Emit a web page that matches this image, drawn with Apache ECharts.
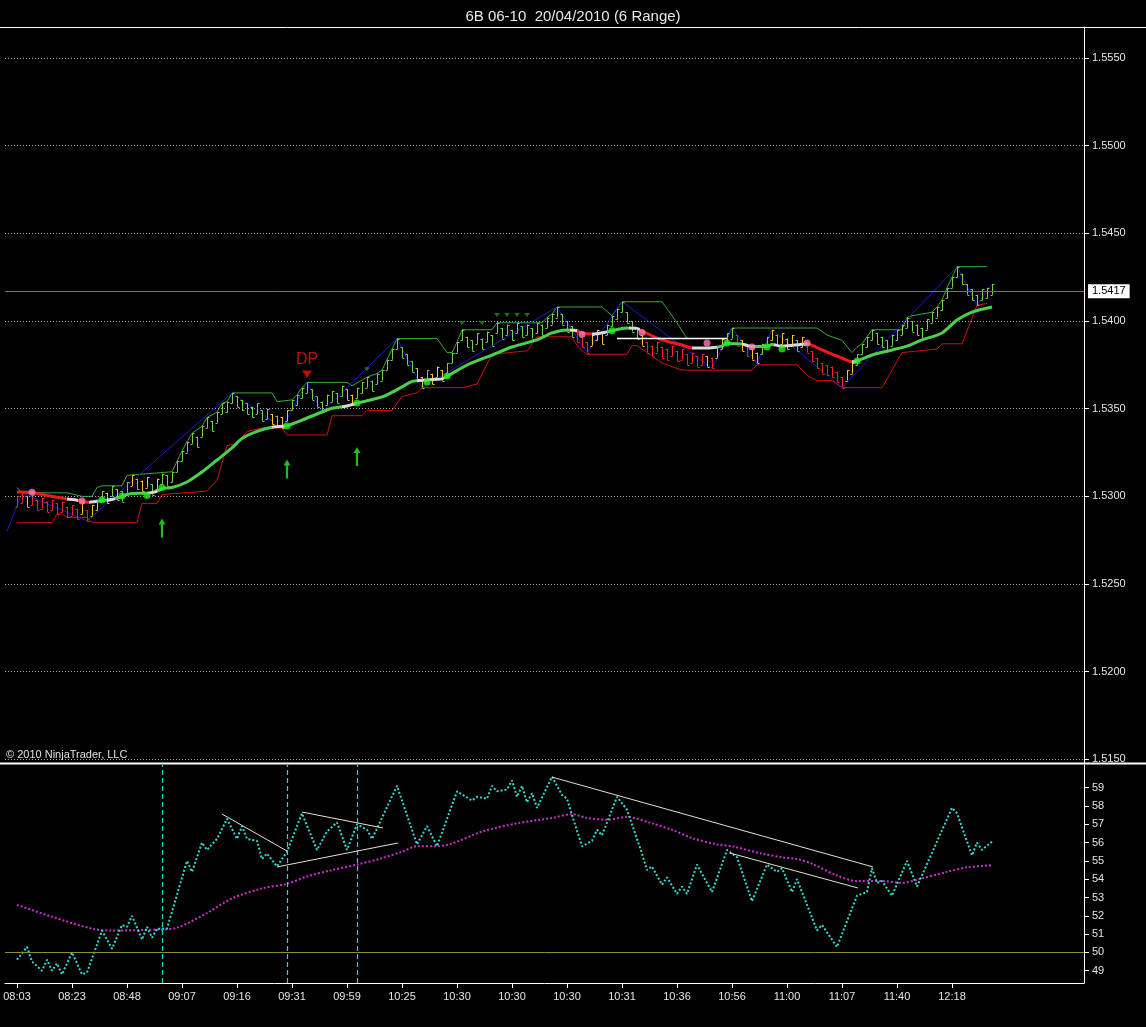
<!DOCTYPE html>
<html><head><meta charset="utf-8">
<script src="https://cdn.jsdelivr.net/npm/echarts@6/dist/echarts.min.js"></script>
<style>html,body{margin:0;padding:0;background:#000;}#c{width:1146px;height:1027px;}</style>
</head><body><div id="c"></div>
<script>
// ---------- axis ticks / labels ----------
const timeLabels = ['08:03','08:23','08:48','09:07','09:16','09:31','09:59','10:25','10:30','10:30','10:30','10:31','10:36','10:56','11:00','11:07','11:40','12:18'];
const timeLabelIdx = [0,11,22,33,44,55,66,77,88,99,110,121,132,143,154,165,176,187];
const priceTicks = [1.5150,1.5200,1.5250,1.5300,1.5350,1.5400,1.5450,1.5500,1.5550];
const oscTicks = [49,50,51,52,53,54,55,56,57,58,59];

// ---------- price bars (6-tick range bars) ----------
const RANGE = 0.0006;
const barHigh = [
1.5300,1.5302,1.5300,1.5301,1.5298,1.5299,1.5297,1.5298,1.5296,1.5297,
1.5294,1.5295,1.5293,1.5296,1.5292,1.5295,1.5298,1.5303,1.5302,1.5306,
1.5304,1.5303,1.5308,1.5312,1.5310,1.5309,1.5311,1.5307,1.5310,1.5313,
1.5312,1.5314,1.5320,1.5326,1.5331,1.5336,1.5334,1.5340,1.5345,1.5343,
1.5348,1.5353,1.5354,1.5359,1.5357,1.5355,1.5353,1.5351,1.5353,1.5349,
1.5350,1.5347,1.5346,1.5345,1.5349,1.5355,1.5358,1.5362,1.5365,1.5361,
1.5357,1.5354,1.5358,1.5360,1.5359,1.5363,1.5361,1.5358,1.5362,1.5365,
1.5368,1.5366,1.5370,1.5372,1.5378,1.5384,1.5390,1.5385,1.5381,1.5377,
1.5373,1.5368,1.5372,1.5370,1.5374,1.5372,1.5376,1.5382,1.5388,1.5395,
1.5391,1.5389,1.5393,1.5390,1.5394,1.5392,1.5399,1.5396,1.5398,1.5395,
1.5399,1.5397,1.5398,1.5396,1.5399,1.5398,1.5402,1.5404,1.5408,1.5404,
1.5400,1.5397,1.5394,1.5391,1.5388,1.5392,1.5395,1.5393,1.5398,1.5403,
1.5407,1.5411,1.5405,1.5400,1.5396,1.5392,1.5388,1.5386,1.5388,1.5385,
1.5384,1.5386,1.5383,1.5384,1.5381,1.5382,1.5380,1.5381,1.5380,1.5379,
1.5385,1.5390,1.5393,1.5396,1.5392,1.5389,1.5386,1.5384,1.5382,1.5387,
1.5391,1.5395,1.5392,1.5393,1.5390,1.5392,1.5389,1.5391,1.5388,1.5383,
1.5379,1.5376,1.5375,1.5374,1.5371,1.5368,1.5372,1.5376,1.5381,1.5387,
1.5391,1.5395,1.5393,1.5391,1.5389,1.5392,1.5395,1.5398,1.5402,1.5400,
1.5398,1.5396,1.5401,1.5405,1.5408,1.5412,1.5419,1.5425,1.5431,1.5427,
1.5421,1.5418,1.5415,1.5418,1.5419,1.5421];
const barColorCodes = [
'rryrrrrrrr','rrryryygyg','yggygyygyg','gggggggggg','gggggggggg',
'gygyyggggg','ggggggyygg','gggggggggg','yygyyygggg','gggggggggg',
'gggggggggg','ggrrryyygg','gggggyrrrr','rrrrrrrryr','yyggryryyg',
'gygyyygyrr','rrrrrryygg','gggggggggg','gggggggggg','gggggg'].join('');

// ---------- price-panel indicators ----------
const upperBand = [[0,1.5305],[1,1.5302],[10,1.5302],[13,1.5300],[15,1.5300],[16,1.5305],[17,1.5306],[21,1.5306],[22,1.5312],[31,1.5314],[32,1.5320],[33,1.5326],[34,1.5331],[35,1.5336],[37,1.5340],[38,1.5345],[40,1.5348],[41,1.5353],[42,1.5354],[43,1.5359],[51,1.5359],[52,1.5354],[55,1.5355],[56,1.5358],[57,1.5362],[58,1.5365],[66,1.5365],[67,1.5363],[70,1.5368],[72,1.5370],[73,1.5372],[74,1.5378],[75,1.5384],[76,1.5390],[84,1.5390],[86,1.5382],[87,1.5382],[88,1.5388],[89,1.5395],[95,1.5395],[96,1.5399],[105,1.5399],[106,1.5402],[107,1.5404],[108,1.5408],[117,1.5408],[119,1.5403],[120,1.5407],[121,1.5411],[129,1.5411],[132,1.5399],[134,1.5390],[142,1.5390],[143,1.5396],[160,1.5396],[162,1.5392],[165,1.5389],[167,1.5382],[168,1.5385],[169,1.5387],[170,1.5391],[171,1.5395],[177,1.5395],[178,1.5402],[179,1.5403],[183,1.5405],[184,1.5408],[185,1.5412],[186,1.5419],[187,1.5425],[188,1.5431],[194,1.5431]];
const lowerBand = [[0,1.5285],[7,1.5285],[8,1.5290],[9,1.5290],[10,1.5288],[14,1.5288],[15,1.5285],[24,1.5285],[25,1.5296],[28,1.5296],[29,1.5301],[38,1.5303],[39,1.5306],[40,1.5309],[42,1.5329],[44,1.5330],[46,1.5337],[49,1.5339],[53,1.5339],[54,1.5335],[62,1.5335],[63,1.5346],[69,1.5346],[70,1.5349],[75,1.5349],[77,1.5357],[80,1.5359],[81,1.5362],[89,1.5362],[92,1.5364],[95,1.5381],[102,1.5383],[103,1.5387],[104,1.5391],[111,1.5391],[112,1.5386],[113,1.5383],[114,1.5381],[122,1.5381],[123,1.5386],[124,1.5386],[126,1.5382],[129,1.5376],[133,1.5372],[147,1.5372],[148,1.5375],[156,1.5375],[158,1.5369],[160,1.5366],[163,1.5366],[165,1.5362],[173,1.5362],[177,1.5382],[184,1.5384],[185,1.5387],[189,1.5387],[192,1.5409],[194,1.5410]];
const zigzag = [[-2,1.5280],[1,1.5302],[14,1.5286],[43,1.5359],[53,1.5339],[58,1.5365],[61,1.5348],[76,1.5390],[81,1.5362],[108,1.5408],[114,1.5382],[121,1.5411],[139,1.5373],[143,1.5396],[148,1.5376],[151,1.5395],[165,1.5362],[188,1.5431],[192,1.5409],[195,1.5421]];
const maLine = [[0,1.53025],[3,1.53022],[6,1.53005],[10,1.52985],[12,1.52978],[14,1.52966],[17,1.52976],[19,1.52982],[21,1.53000],[23,1.53016],[26,1.53018],[28,1.53028],[29,1.53044],[31,1.53050],[34,1.53082],[37,1.53139],[40,1.53207],[43,1.53276],[45,1.53330],[48,1.53370],[51,1.53394],[54,1.53403],[57,1.53435],[61,1.53481],[63,1.53502],[66,1.53515],[68,1.53532],[73,1.53567],[77,1.53624],[79,1.53655],[82,1.53664],[85,1.53670],[86,1.53684],[90,1.53749],[95,1.53806],[99,1.53852],[104,1.53892],[107,1.53932],[110,1.53949],[112,1.53946],[113,1.53930],[115,1.53926],[118,1.53938],[122,1.53960],[124,1.53958],[125,1.53943],[129,1.53892],[133,1.53863],[135,1.53846],[139,1.53848],[141,1.53857],[142,1.53872],[145,1.53869],[147,1.53854],[150,1.53855],[151,1.53866],[153,1.53856],[158,1.53869],[161,1.53835],[165,1.53789],[167,1.53768],[168,1.53772],[171,1.53806],[175,1.53835],[178,1.53857],[181,1.53892],[185,1.53932],[188,1.54006],[191,1.54051],[195,1.54080]];
const maSegments = [[-5,10,'r'],[10,12.2,'w'],[12.2,14.4,'r'],[14.4,16,'w'],[16,18,'g'],[18,19.6,'w'],[19.6,26,'g'],[26,28,'w'],[28,51,'g'],[51,53.5,'w'],[53.5,65,'g'],[65,67.5,'w'],[67.5,80,'g'],[80,85.5,'w'],[85.5,110.5,'g'],[110.5,112,'w'],[112,115,'r'],[115,118,'w'],[118,122.5,'g'],[122.5,124.5,'w'],[124.5,135,'r'],[135,140,'w'],[140,145,'g'],[145,147.5,'w'],[147.5,151.5,'g'],[151.5,158,'w'],[158,167,'r'],[167,168,'w'],[168,220,'g']];
const maDotsGreen = [[17,1.52980],[21,1.53002],[26,1.53005],[29,1.53050],[54,1.53401],[68,1.53532],[82,1.53652],[86,1.53686],[119,1.53945],[142,1.53875],[150,1.53852],[153,1.53840],[168,1.53772]];
const maDotsPink = [[3,1.53024],[13,1.52974],[113,1.53924],[125,1.53935],[138,1.53875],[147,1.53852],[158,1.53875]];
const arrowsUp = [[29,1.52819],[54,1.53156],[68,1.53227]];
const dpMark = [[58,1.53698]];
const smallTriangles = [[70,1.53725],[89,1.53989],[93,1.53989],[96,1.54034],[98,1.54034],[100,1.54034],[102,1.54034]];
const whiteLevel = [[120,1.5390],[142,1.5390]];
const lastPrice = 1.5417;

// ---------- oscillator panel ----------
const oscCyan = [[0,49.6],[2,50.3],[3,49.5],[5,49.0],[6,49.6],[7,49.0],[8,49.4],[9,48.8],[11,50.0],[13,48.8],[14,48.9],[17,51.2],[19,50.2],[21,51.5],[22,51.4],[23,52.0],[25,50.7],[26,51.4],[27,50.8],[28,51.3],[30,51.3],[34,55.0],[35,54.4],[37,56.0],[38,55.6],[40,56.2],[42,57.3],[44,56.2],[45,56.9],[46,56.2],[48,56.1],[49,55.1],[50,55.4],[52,54.7],[54,55.5],[57,57.6],[60,55.6],[62,56.6],[64,57.1],[66,55.6],[68,57.0],[70,56.7],[71,56.2],[76,59.1],[80,55.9],[82,56.9],[84,55.8],[88,58.8],[91,58.3],[92,58.5],[94,58.4],[95,59.1],[96,58.8],[98,58.9],[99,59.4],[100,58.5],[101,59.1],[102,58.2],[103,58.7],[104,57.9],[107,59.6],[109,58.6],[110,58.4],[111,57.5],[113,55.8],[115,56.1],[116,56.7],[117,56.4],[120,58.5],[122,57.8],[125,55.4],[126,54.5],[127,54.7],[129,53.7],[130,54.1],[132,53.2],[133,53.6],[134,53.2],[136,54.8],[139,53.3],[142,55.6],[144,55.2],[147,52.8],[150,54.8],[152,54.4],[153,54.6],[155,53.3],[156,54.0],[160,51.2],[161,51.5],[164,50.3],[168,53.1],[170,53.3],[171,54.6],[172,53.8],[173,53.9],[175,53.1],[178,55.0],[180,53.6],[187,57.9],[188,57.6],[191,55.3],[192,56.0],[193,55.6],[195,56.05]];
const oscMagenta = [[0,52.6],[7,51.95],[15,51.3],[19,51.2],[28,51.25],[32,51.35],[38,52.15],[43,52.95],[49,53.5],[54,53.75],[58,54.15],[63,54.5],[68,54.8],[73,55.15],[77,55.5],[80,55.8],[84,55.8],[87,55.95],[93,56.6],[100,57.05],[107,57.35],[111,57.55],[114,57.35],[118,57.25],[122,57.4],[127,57.05],[131,56.7],[135,56.25],[140,55.9],[143,55.8],[149,55.4],[153,55.2],[156,55.1],[159,54.85],[164,54.2],[168,53.9],[173,53.9],[177,53.8],[181,54.05],[186,54.4],[190,54.65],[195,54.76]];
const oscTrendlines = [[[41,57.56],[54,55.54]],[[57,57.67],[73.2,56.80]],[[52,54.67],[76.2,55.98]],[[107,59.58],[171.2,54.67]],[[142.6,55.43],[168.2,53.52]]];
const oscVerticals = [29,54,68];
const oscLevel = 50;
const lastCyan = 56.05, lastMagenta = 54.76;

// ---------- build ----------
const FONT = 'Liberation Sans, Arial, sans-serif';
const barColors = ['#74d24e', '#e82828', '#f4c530'];
const maColors = {r:'#ee1a1a', w:'#d8d8d8', g:'#4ccf4c'};
const barData = barHigh.map((hi, i) => {
  const lo = +(hi - RANGE).toFixed(4);
  const up = i === 0 || hi >= barHigh[i - 1];
  return [i, hi, lo, up ? lo : hi, up ? hi : lo, 'gry'.indexOf(barColorCodes[i])];
});

const chart = echarts.init(document.getElementById('c'));
const XMIN = -2.4, XMAX = 213.4;
const axisTxt = {color:'#e4e4e4', fontSize:11, fontFamily:FONT};

const option = {
  backgroundColor:'#000',
  animation:false,
  title:{text:'6B 06-10  20/04/2010 (6 Range)', left:'center', top:4,
    textStyle:{color:'#e8e8e8', fontSize:15, fontWeight:'normal', fontFamily:FONT}},
  grid:[
    {left:5, right:62, top:27, height:736},
    {left:5, right:62, top:765, height:218}
  ],
  xAxis:[
    {gridIndex:0, type:'value', min:XMIN, max:XMAX, show:false},
    {gridIndex:1, type:'value', min:XMIN, max:XMAX,
      axisLine:{show:true, onZero:false, lineStyle:{color:'#fff', width:1}},
      axisTick:{show:true, customValues:timeLabelIdx, length:5, lineStyle:{color:'#fff'}},
      axisLabel:Object.assign({customValues:timeLabelIdx, margin:8,
        formatter:v => timeLabels[timeLabelIdx.indexOf(Math.round(v))] || ''}, axisTxt),
      splitLine:{show:false}}
  ],
  yAxis:[
    {gridIndex:0, type:'value', position:'right', min:1.51479, max:1.55677, scale:true,
      axisLine:{show:true, onZero:false, lineStyle:{color:'#fff'}},
      axisTick:{show:true, customValues:priceTicks, length:5, lineStyle:{color:'#fff'}},
      axisLabel:Object.assign({customValues:priceTicks, margin:8, formatter:v => v.toFixed(4)}, axisTxt),
      splitLine:{show:false}},
    {gridIndex:1, type:'value', position:'right', min:48.33, max:60.24, scale:true,
      axisLine:{show:true, onZero:false, lineStyle:{color:'#fff'}},
      axisTick:{show:true, customValues:oscTicks, length:5, lineStyle:{color:'#fff'}},
      axisLabel:Object.assign({customValues:oscTicks, margin:8, formatter:v => String(Math.round(v))}, axisTxt),
      splitLine:{show:false}}
  ],
  visualMap:[{
    type:'piecewise', show:false, dimension:0, seriesIndex:4,
    pieces:maSegments.map(s => ({gte:s[0], lt:s[1], color:maColors[s[2]]}))
  }],
  series:[
    // 0 upper band (+ gridlines + last price line)
    {type:'line', xAxisIndex:0, yAxisIndex:0, data:upperBand, symbol:'none',
      lineStyle:{color:'#3aa83a', width:1}, z:3,
      markLine:{symbol:['none','none'], silent:true, precision:4,
        data:priceTicks.map(p => ({yAxis:p, lineStyle:{color:'#a8a8a8', type:[1,2], width:1}, label:{show:false}}))
          .concat([{yAxis:lastPrice, lineStyle:{color:'#2f9a5c', type:'solid', width:1},
            label:{show:true, position:'end', distance:4, formatter:'1.5417', backgroundColor:'#ffffff', color:'#000',
              fontSize:11, fontFamily:FONT, padding:[2,4,1,4]}}])}},
    // 1 lower band
    {type:'line', xAxisIndex:0, yAxisIndex:0, data:lowerBand, symbol:'none',
      lineStyle:{color:'#d01010', width:1}, z:3},
    // 2 blue zigzag
    {type:'line', xAxisIndex:0, yAxisIndex:0, data:zigzag, symbol:'none',
      lineStyle:{color:'#1c1cc8', width:1}, z:3},
    // 3 bars
    {type:'custom', xAxisIndex:0, yAxisIndex:0, data:barData, z:4,
      encode:{x:0, y:[1,2,3,4]},
      renderItem:(params, api) => {
        const i = api.value(0);
        const pH = api.coord([i, api.value(1)]), pL = api.coord([i, api.value(2)]);
        const pO = api.coord([i, api.value(3)]), pC = api.coord([i, api.value(4)]);
        const col = barColors[api.value(5)];
        const x = Math.round(pH[0]) + 0.5;
        const st = {stroke:col, lineWidth:1};
        return {type:'group', children:[
          {type:'line', shape:{x1:x, y1:pH[1], x2:x, y2:pL[1]}, style:st},
          {type:'line', shape:{x1:x - 2, y1:Math.round(pO[1]) + 0.5, x2:x, y2:Math.round(pO[1]) + 0.5}, style:st},
          {type:'line', shape:{x1:x, y1:Math.round(pC[1]) + 0.5, x2:x + 2, y2:Math.round(pC[1]) + 0.5}, style:st}
        ]};
      }},
    // 4 moving average (coloured by state)
    {type:'line', xAxisIndex:0, yAxisIndex:0, data:maLine, symbol:'none', smooth:0.3,
      lineStyle:{width:3}, z:5},
    // 5 white level
    {type:'line', xAxisIndex:0, yAxisIndex:0, data:whiteLevel, symbol:'none',
      lineStyle:{color:'#ffffff', width:1.5}, z:5},
    // 6 green dots
    {type:'scatter', xAxisIndex:0, yAxisIndex:0, data:maDotsGreen, symbol:'circle', symbolSize:7,
      itemStyle:{color:'#22ee22'}, z:6},
    // 7 pink dots
    {type:'scatter', xAxisIndex:0, yAxisIndex:0, data:maDotsPink, symbol:'circle', symbolSize:7,
      itemStyle:{color:'#ff7ab8'}, z:6},
    // 8 arrows
    {type:'scatter', xAxisIndex:0, yAxisIndex:0, data:arrowsUp,
      symbol:'path://M3.5,0 L7,6 L4.6,6 L4.6,19 L2.4,19 L2.4,6 L0,6 Z', symbolSize:[7,19],
      itemStyle:{color:'#22f022'}, z:6},
    // 9 DP marker
    {type:'scatter', xAxisIndex:0, yAxisIndex:0, data:dpMark, symbol:'triangle', symbolRotate:180,
      symbolSize:[10,7], itemStyle:{color:'#ee1111'}, z:6,
      label:{show:true, position:'top', distance:3, formatter:'DP', color:'#ee1111', fontSize:16, fontFamily:FONT}},
    // 10 small triangles
    {type:'scatter', xAxisIndex:0, yAxisIndex:0, data:smallTriangles, symbol:'triangle', symbolRotate:180,
      symbolSize:[6,4], itemStyle:{color:'#1f8a1f'}, z:6},
    // 11 oscillator (cyan)
    {type:'line', xAxisIndex:1, yAxisIndex:1, data:oscCyan, symbol:'none',
      lineStyle:{color:'#36d8d0', width:2, type:[2,2]}, z:4,
      markLine:{symbol:['none','none'], silent:true, precision:2,
        data:[
          {yAxis:oscLevel, lineStyle:{color:'#8c8c3c', type:'solid', width:1}, label:{show:false}}
        ].concat(oscVerticals.map(v => ({xAxis:v, lineStyle:{color:'#20d8d8', type:[5,3], width:1.2, opacity:1}, label:{show:false}})))
         .concat(oscTrendlines.map(t => [{coord:t[0], lineStyle:{color:'#e8e0d0', type:'solid', width:1}, label:{show:false}}, {coord:t[1]}]))
         .concat([{yAxis:lastCyan, lineStyle:{opacity:0},
            label:{show:true, position:'end', distance:4, formatter:'56.05', backgroundColor:'#30e0e0', color:'#ffffff',
              fontSize:11, fontFamily:FONT, padding:[2,3,1,3]}}])}},
    // 12 signal (magenta)
    {type:'line', xAxisIndex:1, yAxisIndex:1, data:oscMagenta, symbol:'none', smooth:0.3,
      lineStyle:{color:'#cc30cc', width:2, type:[2,2]}, z:3,
      markLine:{symbol:['none','none'], silent:true, precision:2,
        data:[{yAxis:lastMagenta, lineStyle:{opacity:0},
          label:{show:true, position:'end', distance:4, formatter:'54.76', backgroundColor:'#ff30ff', color:'#ffffff',
            fontSize:11, fontFamily:FONT, padding:[2,3,1,3]}}]}}
  ],
  graphic:[
    {type:'line', shape:{x1:0, y1:27.5, x2:1146, y2:27.5}, style:{stroke:'#ffffff', lineWidth:1}, z:10},
    {type:'line', shape:{x1:0, y1:763.5, x2:1146, y2:763.5}, style:{stroke:'#ffffff', lineWidth:2}, z:10},
    {type:'text', left:6, top:749, style:{text:'\u00a9 2010 NinjaTrader, LLC', fill:'#e0e0e0', font:'11px Liberation Sans, Arial, sans-serif'}, z:10}
  ]
};
chart.setOption(option);
</script>
</body></html>
